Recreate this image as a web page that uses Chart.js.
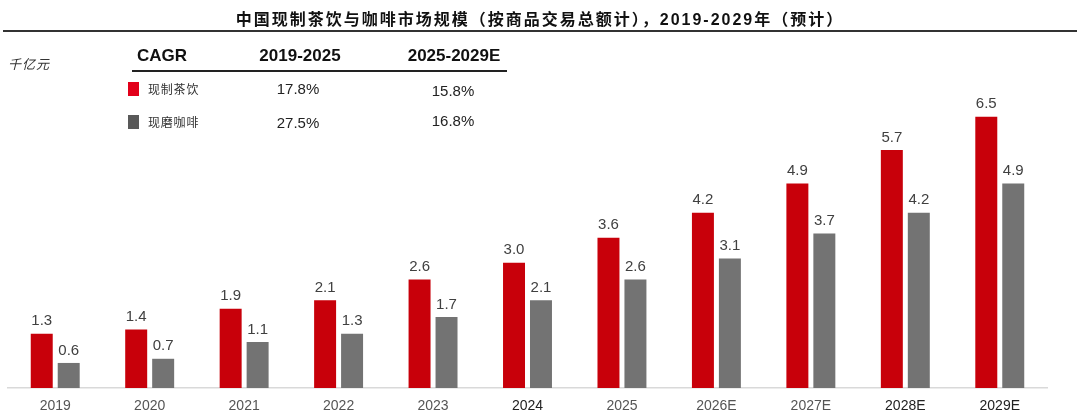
<!DOCTYPE html>
<html>
<head>
<meta charset="utf-8">
<script src="https://cdn.jsdelivr.net/npm/chart.js@4/dist/chart.umd.min.js"></script>
<style>
  body { margin: 0; background: #fff; }
  #wrap { position: relative; width: 1080px; height: 416px; overflow: hidden; font-family: "Liberation Sans", "Noto Sans CJK SC", sans-serif; }
  #chart { position: absolute; left: 0; top: 0; }
  .abs { position: absolute; white-space: nowrap; }
  #title { left: 0; width: 1080px; top: 6px; text-align: center; font-size: 16px; letter-spacing: 2px; font-weight: bold; color: #111; font-family: "Liberation Sans", "Noto Sans CJK SC", sans-serif; }
  #titleLine { left: 3px; top: 30px; width: 1074px; height: 2px; background: #333; }
  #unit { left: 8px; top: 54px; font-size: 13px; letter-spacing: 1px; font-style: italic; color: #333; font-family: "Noto Sans CJK SC", sans-serif; }
  .hdr { font-size: 17px; font-weight: bold; color: #111; top: 46px; }
  #hdrLine { left: 132px; top: 70px; width: 375px; height: 2px; background: #222; }
  .sq { width: 11px; height: 14px; }
  .name { font-size: 12px; letter-spacing: 0.8px; color: #333; font-family: "Noto Sans CJK SC", sans-serif; }
  .val { font-size: 15px; color: #222; width: 100px; text-align: center; }
</style>
</head>
<body>
<div id="wrap">
  <canvas id="chart" width="1080" height="416"></canvas>
  <div class="abs" id="title">中国现制茶饮与咖啡市场规模（按商品交易总额计），2019-2029年（预计）</div>
  <div class="abs" id="titleLine"></div>
  <div class="abs" id="unit">千亿元</div>
  <div class="abs hdr" style="left:137px">CAGR</div>
  <div class="abs hdr" style="left:250px;width:100px;text-align:center">2019-2025</div>
  <div class="abs hdr" style="left:404px;width:100px;text-align:center">2025-2029E</div>
  <div class="abs" id="hdrLine"></div>
  <div class="abs sq" style="left:128px;top:82px;background:#e2001a"></div>
  <div class="abs name" style="left:148px;top:80px">现制茶饮</div>
  <div class="abs val" style="left:248px;top:80px">17.8%</div>
  <div class="abs val" style="left:403px;top:82px">15.8%</div>
  <div class="abs sq" style="left:128px;top:115px;background:#595959"></div>
  <div class="abs name" style="left:148px;top:113px">现磨咖啡</div>
  <div class="abs val" style="left:248px;top:114px">27.5%</div>
  <div class="abs val" style="left:403px;top:112px">16.8%</div>
</div>
<script>
const years = ['2019', '2020', '2021', '2022', '2023', '2024', '2025', '2026E', '2027E', '2028E', '2029E'];
const teaValues = [1.3, 1.4, 1.9, 2.1, 2.6, 3.0, 3.6, 4.2, 4.9, 5.7, 6.5];
const coffeeValues = [0.6, 0.7, 1.1, 1.3, 1.7, 2.1, 2.6, 3.1, 3.7, 4.2, 4.9];
const tickColors = ['#555', '#555', '#555', '#555', '#555', '#222', '#555', '#555', '#555', '#222', '#222'];

// value labels above the bars
const valueLabels = {
    id: 'valueLabels',
    afterDatasetsDraw(chart) {
        const ctx = chart.ctx;
        ctx.save();
        ctx.font = '15px "Liberation Sans", sans-serif';
        ctx.fillStyle = '#404040';
        ctx.textAlign = 'center';
        ctx.textBaseline = 'bottom';
        chart.data.datasets.forEach((ds, i) => {
            chart.getDatasetMeta(i).data.forEach((bar, j) => {
                ctx.fillText(ds.data[j].toFixed(1), bar.x, bar.y - 5);
            });
        });
        ctx.restore();
    }
};

new Chart(document.getElementById('chart'), {
    type: 'bar',
    data: {
        labels: years,
        datasets: [
            { label: '现制茶饮', data: teaValues, backgroundColor: '#c8000a' },
            { label: '现磨咖啡', data: coffeeValues, backgroundColor: '#737373' }
        ]
    },
    options: {
        responsive: false,
        animation: false,
        layout: { padding: { top: 54, left: 8, right: 33, bottom: 0 } },
        categoryPercentage: 0.571,
        barPercentage: 0.815,
        scales: {
            x: {
                grid: { display: false, drawTicks: false },
                border: { display: true, color: '#d9d9d9', width: 1.5 },
                ticks: {
                    padding: 10,
                    color: (c) => tickColors[c.index],
                    font: { size: 14, family: '"Liberation Sans", sans-serif' }
                },
                afterFit: (scale) => { scale.height = 28; }
            },
            y: { display: false, min: 0, max: 8 }
        },
        plugins: {
            legend: { display: false },
            tooltip: { enabled: false }
        }
    },
    plugins: [valueLabels]
});
</script>
</body>
</html>
